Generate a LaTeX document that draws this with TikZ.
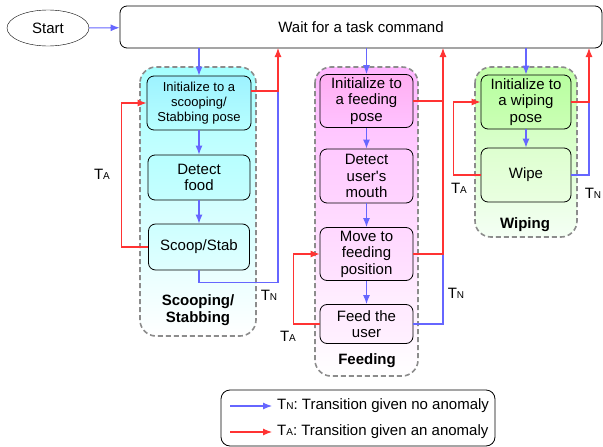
\documentclass[tikz,border=0pt]{standalone}
\usepackage{fontspec}
\setmainfont{Liberation Sans}
\usetikzlibrary{shapes.geometric,arrows.meta}
\definecolor{tnblue}{rgb}{0.4,0.4,1.0}
\definecolor{tared}{rgb}{1.0,0.2,0.2}
\definecolor{grpgray}{rgb}{0.55,0.55,0.55}
\definecolor{scoopbg}{rgb}{0.65,1.0,1.0}
\definecolor{feedbg}{rgb}{1.0,0.72,1.0}
\definecolor{wipebg}{rgb}{0.76,1.0,0.66}
\newcommand{\Tsub}[1]{T{\fontsize{10}{10}\selectfont #1}}

\begin{document}
\begin{tikzpicture}[x=1pt, y=-1pt, >={Latex[length=9pt,width=7pt]},
	font=\fontsize{15}{16.5}\selectfont,
	state/.style={draw, rounded corners=7pt, align=center, inner sep=0pt, line width=0.8pt},
	group/.style={draw=grpgray, dash pattern=on 5pt off 3pt, line width=1.6pt, rounded corners=16pt},
	grouplabel/.style={font=\fontsize{15}{17}\selectfont\bfseries, align=center},
	tn/.style={tnblue, line width=1.1pt},
	ta/.style={tared, line width=1.1pt}]

				\useasboundingbox (0,0) rectangle (603,447);

				% groups
				\path[group, top color=scoopbg, bottom color=white] (140,67) rectangle (256,336);
				\path[group, top color=feedbg, bottom color=white] (315,67) rectangle (418,376);
				\path[group, top color=wipebg, bottom color=white!96!green] (475,67) rectangle (577,237);

				\node[grouplabel] (lS) at (198,310) {Scooping/\\Stabbing};
				\node[grouplabel] (lF) at (367,361) {Feeding};
				\node[grouplabel] (lW) at (525,225) {Wiping};

				\node[draw, ellipse, minimum width=82pt, minimum height=36pt, inner sep=0pt] (start) at (48,28) {Start};
				\node[state, minimum width=482pt, minimum height=42pt] (wait) at (361,27) {Wait for a task command};

				% scooping
				\node[state, minimum width=104pt, minimum height=54pt, top color=scoopbg!95!blue, bottom color=scoopbg!80!white, font=\fontsize{13}{15}\selectfont] (iS) at (199,103) {Initialize to a\\scooping/\\Stabbing pose};
				\node[state, minimum width=102pt, minimum height=45pt, top color=scoopbg!80!white, bottom color=scoopbg!65!white] (dS) at (199,177.5) {Detect\\food};
				\node[state, minimum width=101pt, minimum height=46pt, top color=scoopbg!55!white, bottom color=scoopbg!35!white] (sS) at (199,247) {Scoop/Stab};

				% feeding
				\node[state, minimum width=93pt, minimum height=53pt, top color=feedbg!95!red, bottom color=feedbg!85!white] (iF) at (366.5,101) {Initialize to\\a feeding\\pose};
				\node[state, minimum width=93pt, minimum height=54pt, top color=feedbg!75!white, bottom color=feedbg!60!white] (dF) at (366.5,176) {Detect\\user\textquotesingle s\\mouth};
				\node[state, minimum width=93pt, minimum height=53pt, top color=feedbg!55!white, bottom color=feedbg!40!white] (mF) at (366.5,254) {Move to\\feeding\\position};
				\node[state, minimum width=93pt, minimum height=39pt, top color=feedbg!30!white, bottom color=feedbg!20!white] (fF) at (366.5,324) {Feed the\\user};

				% wiping
				\node[state, minimum width=90pt, minimum height=54pt, top color=wipebg!95!green, bottom color=wipebg!85!white] (iW) at (526,102) {Initialize to\\a wiping\\pose};
				\node[state, minimum width=90pt, minimum height=54pt, top color=wipebg!55!white, bottom color=wipebg!35!white] (wW) at (526,175) {Wipe};

				\coordinate (upS) at (278,48);
				\coordinate (upF) at (443,48);
				\coordinate (upW) at (589,48);
				\coordinate (oS) at (251,91);

				% blue
				\draw[tn,->] (start) -- (wait);
				\draw[tn,->] (wait.south -| iS) -- (iS);
				\draw[tn,->] (iS) -- (dS);
				\draw[tn,->] (dS) -- (sS);
				\draw[tn,->] (wait.south -| iF) -- (iF);
				\draw[tn,->] (iF) -- (dF);
				\draw[tn,->] (dF) -- (mF);
				\draw[tn,->] (mF) -- (fF);
				\draw[tn,->] (wait.south -| iW) -- (iW);
				\draw[tn,->] (iW) -- (wW);

				\draw[tn] (sS.south) -- ++(0,12) -| (oS -| upS);
				\draw[tn] (fF.east) -| (mF.east -| upF);
				\draw[tn] (wW.east) -| (iW.east -| upW);

				% red
				\draw[ta,->] (oS) -| (upS);
				\draw[ta,->] (sS.west) -- ++(-27,0) |- (iS.west);
				\draw[ta] (iF.east) -- (iF.east -| upF);
				\draw[ta,->] (mF.east) -| (upF);
				\draw[ta,->] (fF.west) -- ++(-26,0) |- (mF.west);
				\draw[ta,->] (iW.east) -| (upW);
				\draw[ta,->] (wW.west) -- ++(-27,0) |- (iW.west);

				\node (aS) at (102,174) {\Tsub{A}};
				\node (nS) at (269,295) {\Tsub{N}};
				\node (aF) at (288,336) {\Tsub{A}};
				\node (nF) at (456,293) {\Tsub{N}};
				\node (aW) at (459,188) {\Tsub{A}};
				\node (nW) at (593,193) {\Tsub{N}};

				% legend
				\draw[line width=0.8pt, rounded corners=9pt] (221,390) rectangle (495,446);
				\coordinate (lnA) at (230,406);
				\coordinate (lnB) at (272,406);
				\coordinate (laA) at (230,432);
				\coordinate (laB) at (272,432);
				\draw[tn,->] (lnA) -- (lnB);
				\draw[ta,->] (laA) -- (laB);
				\node[anchor=west, inner sep=0pt] (txN) at (277,406) {\Tsub{N}: Transition given no anomaly};
				\node[anchor=west, inner sep=0pt] (txA) at (277,432) {\Tsub{A}: Transition given an anomaly};

\end{tikzpicture}
\end{document}
